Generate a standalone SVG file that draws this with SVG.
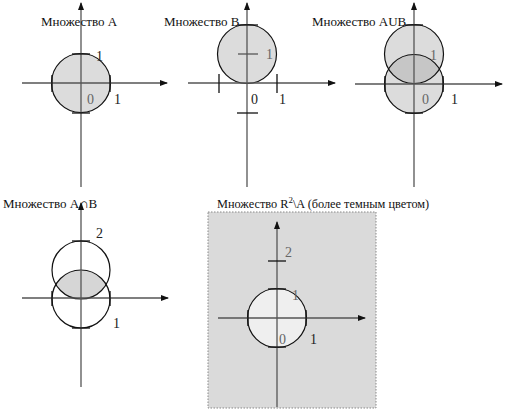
<svg xmlns="http://www.w3.org/2000/svg" width="511" height="413" viewBox="0 0 511 413">
<defs>
<marker id="arr" markerWidth="8" markerHeight="8" refX="7" refY="4" orient="auto" markerUnits="userSpaceOnUse">
<path d="M0,1 L8,4 L0,7 Z" fill="#111"/>
</marker>
<clipPath id="cA4"><circle cx="81" cy="299" r="29"/></clipPath>
<clipPath id="cA3"><circle cx="414" cy="84" r="29.5"/></clipPath>
</defs>
<style>
.ax{stroke:#555;stroke-width:1.3;fill:none}
.circ{stroke:#111;stroke-width:1.2}
.tk{stroke:#111;stroke-width:1.3}
text{font-family:'Liberation Serif','Times New Roman',serif}
.t{font-size:13px;fill:#111}
.n{font-size:14px;fill:#222}
.g{fill:#666}
</style>
<rect width="511" height="413" fill="#fff"/>

<g id="panel1">
<circle class="circ" cx="81" cy="83" r="29.5" fill="#dcdcdc"/>
<line class="ax" x1="81" y1="187" x2="81" y2="3" marker-end="url(#arr)"/>
<line class="ax" x1="22" y1="83" x2="167" y2="83" marker-end="url(#arr)"/>
<line class="tk" x1="72" y1="54" x2="90" y2="54"/>
<line class="tk" x1="72" y1="113" x2="90" y2="113"/>
<line class="tk" x1="52" y1="75" x2="52" y2="92"/>
<line class="tk" x1="110" y1="75" x2="110" y2="92"/>
<text class="n" x="96" y="61">1</text>
<text class="n g" x="87" y="104">0</text>
<text class="n" x="114" y="104">1</text>
<text class="t" x="41" y="26">Множество А</text>
</g>

<g id="panel2">
<circle class="circ" cx="247" cy="54" r="29.5" fill="#dcdcdc"/>
<line class="ax" x1="247" y1="187" x2="247" y2="3" marker-end="url(#arr)"/>
<line class="ax" x1="188" y1="83" x2="335" y2="83" marker-end="url(#arr)"/>
<line class="tk" x1="238" y1="25" x2="258" y2="25"/>
<line class="tk" x1="238" y1="54" x2="258" y2="54" style="stroke:#555"/>
<line class="tk" x1="237" y1="113" x2="258" y2="113"/>
<line class="tk" x1="219" y1="74" x2="219" y2="93"/>
<line class="tk" x1="277" y1="74" x2="277" y2="93"/>
<text class="n g" x="266" y="59">1</text>
<text class="n" x="251" y="104">0</text>
<text class="n" x="279" y="104">1</text>
<text class="t" x="164" y="26">Множество В</text>
</g>

<g id="panel3">
<circle cx="414" cy="54" r="29.5" fill="#dcdcdc"/>
<circle cx="414" cy="84" r="29.5" fill="#dcdcdc"/>
<circle cx="414" cy="54" r="29.5" fill="#c6c6c6" clip-path="url(#cA3)"/>
<circle class="circ" cx="414" cy="54" r="29.5" fill="none"/>
<circle class="circ" cx="414" cy="84" r="29.5" fill="none"/>
<line class="ax" x1="414" y1="187" x2="414" y2="3" marker-end="url(#arr)"/>
<line class="ax" x1="355" y1="84" x2="502" y2="84" marker-end="url(#arr)"/>
<line class="tk" x1="405" y1="25" x2="423" y2="25"/>
<line class="tk" x1="405" y1="113" x2="423" y2="113"/>
<line class="tk" x1="385" y1="76" x2="385" y2="92"/>
<line class="tk" x1="443" y1="76" x2="443" y2="92"/>
<text class="n g" x="430" y="60">1</text>
<text class="n g" x="422" y="104">0</text>
<text class="n" x="451" y="104">1</text>
<text class="t" x="312" y="26">Множество АUВ</text>
</g>

<g id="panel4">
<circle cx="81" cy="270" r="29" fill="#d6d6d6" clip-path="url(#cA4)"/>
<circle class="circ" cx="81" cy="270" r="29" fill="none"/>
<circle class="circ" cx="81" cy="299" r="29" fill="none"/>
<line class="ax" x1="81" y1="387" x2="81" y2="203" marker-end="url(#arr)"/>
<line class="ax" x1="22" y1="298" x2="168" y2="298" marker-end="url(#arr)"/>
<line class="tk" x1="72" y1="241" x2="90" y2="241"/>
<line class="tk" x1="72" y1="328" x2="90" y2="328"/>
<line class="tk" x1="52" y1="291" x2="52" y2="306"/>
<line class="tk" x1="110" y1="291" x2="110" y2="306"/>
<text class="n" x="96" y="238">2</text>
<text class="n" x="113" y="328">1</text>
<text class="t" x="3" y="208">Множество А∩В</text>
</g>

<g id="panel5">
<rect x="208" y="212" width="168" height="196" fill="#dadada" stroke="#888" stroke-width="1" stroke-dasharray="1.5,1.5"/>
<circle class="circ" cx="277" cy="318" r="29.5" fill="#efefef"/>
<line class="ax" x1="277" y1="407" x2="277" y2="222" marker-end="url(#arr)"/>
<line class="ax" x1="218" y1="318" x2="365" y2="318" marker-end="url(#arr)"/>
<line class="tk" x1="268" y1="261" x2="286" y2="261"/>
<line class="tk" x1="268" y1="289" x2="286" y2="289"/>
<line class="tk" x1="268" y1="347" x2="286" y2="347"/>
<line class="tk" x1="248" y1="310" x2="248" y2="326"/>
<line class="tk" x1="306" y1="310" x2="306" y2="326"/>
<text class="n g" x="285" y="257">2</text>
<text class="n g" x="292" y="300">1</text>
<text class="n g" x="279" y="344">0</text>
<text class="n" x="310" y="344">1</text>
<text class="t" x="217" y="208" style="font-size:12.3px">Множество R<tspan dy="-5" font-size="9">2</tspan><tspan dy="5">\A (более темным цветом)</tspan></text>
</g>
</svg>
